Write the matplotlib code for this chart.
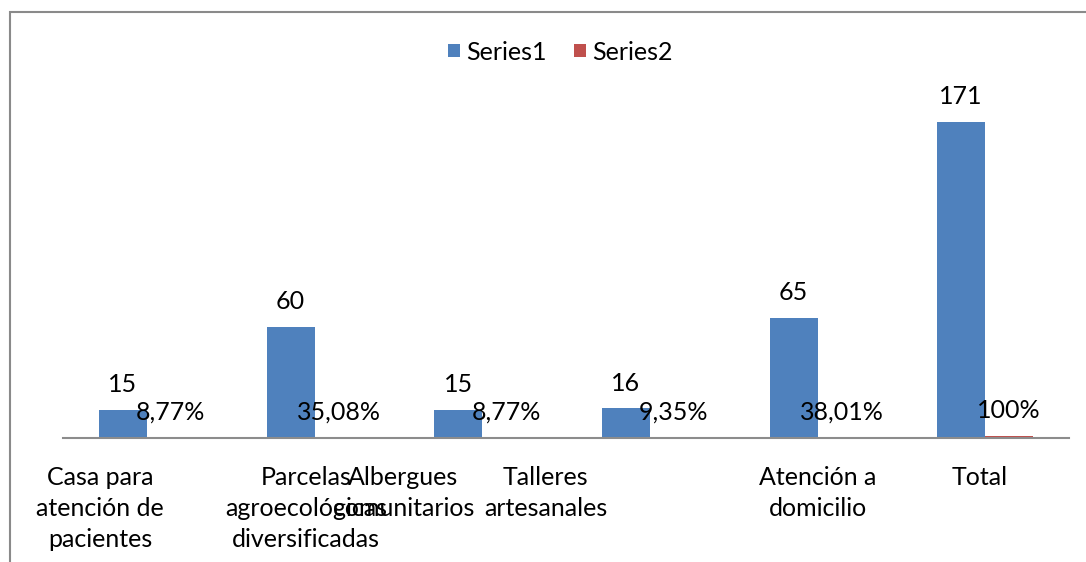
import matplotlib.pyplot as plt
from matplotlib.patches import Rectangle
import numpy as np

categories = ["Casa para\natención de\npacientes",
              "Parcelas\nagroecológicas\ndiversificadas",
              "Albergues\ncomunitarios",
              "Talleres\nartesanales",
              "Atención a\ndomicilio",
              "Total"]
series1 = [15, 60, 15, 16, 65, 171]
series2 = [0.0877, 0.3508, 0.0877, 0.0935, 0.3801, 1.0]
series2_labels = ["8,77%", "35,08%", "8,77%", "9,35%", "38,01%", "100%"]
# horizontal shift of each category label (in category units), as in the source
label_shift = [-0.28, -0.05, -0.47, -0.62, 0.0, -0.03]

BLUE = "#4F81BD"
RED = "#C0504D"
FONT = "Lato"
FS = 18


def main():
    plt.rcParams['font.family'] = [FONT, 'DejaVu Sans']
    fig = plt.figure(figsize=(10.86, 5.62), dpi=100)
    W, H = 1086, 562
    ax = fig.add_axes([63 / W, (H - 438) / H, (1069 - 63) / W, (438 - 105) / H])

    x = np.arange(len(categories))
    bw = 0.286
    b1 = ax.bar(x - bw / 2, series1, bw, color=BLUE, label="Series1")
    b2 = ax.bar(x + bw / 2, series2, bw, color=RED, label="Series2")

    ax.bar_label(b1, labels=[str(v) for v in series1], padding=10,
                 fontsize=FS, color="black")
    ax.bar_label(b2, labels=series2_labels, padding=10,
                 fontsize=FS, color="black")

    ax.set_xlim(-0.5, len(categories) - 0.5)
    ax.set_ylim(0, 180)
    ax.set_yticks([])
    for s in ["top", "right", "left"]:
        ax.spines[s].set_visible(False)
    ax.spines["bottom"].set_color("#8c8c8c")
    ax.spines["bottom"].set_linewidth(1.5)

    ax.set_xticks(x + np.array(label_shift))
    ax.set_xticklabels(categories, fontsize=FS, linespacing=1.43)
    ax.tick_params(axis="x", length=0, pad=20)

    fig.legend(handles=[b1, b2], loc="center", bbox_to_anchor=(560 / W, 1 - 52 / H),
               ncol=2, frameon=False, fontsize=FS, handlelength=0.47,
               handleheight=0.47, handletextpad=0.25, columnspacing=1.1)

    # outer chart frame (cropped on the right and bottom)
    fig.patches.append(Rectangle((10 / W, -0.1), 1.2, 1 + 0.1 - 12 / H,
                                 transform=fig.transFigure, fill=False,
                                 edgecolor="#8a8a8a", linewidth=1.5))

    fig.savefig("out.png", dpi=100)


if __name__ == "__main__":
    main()
